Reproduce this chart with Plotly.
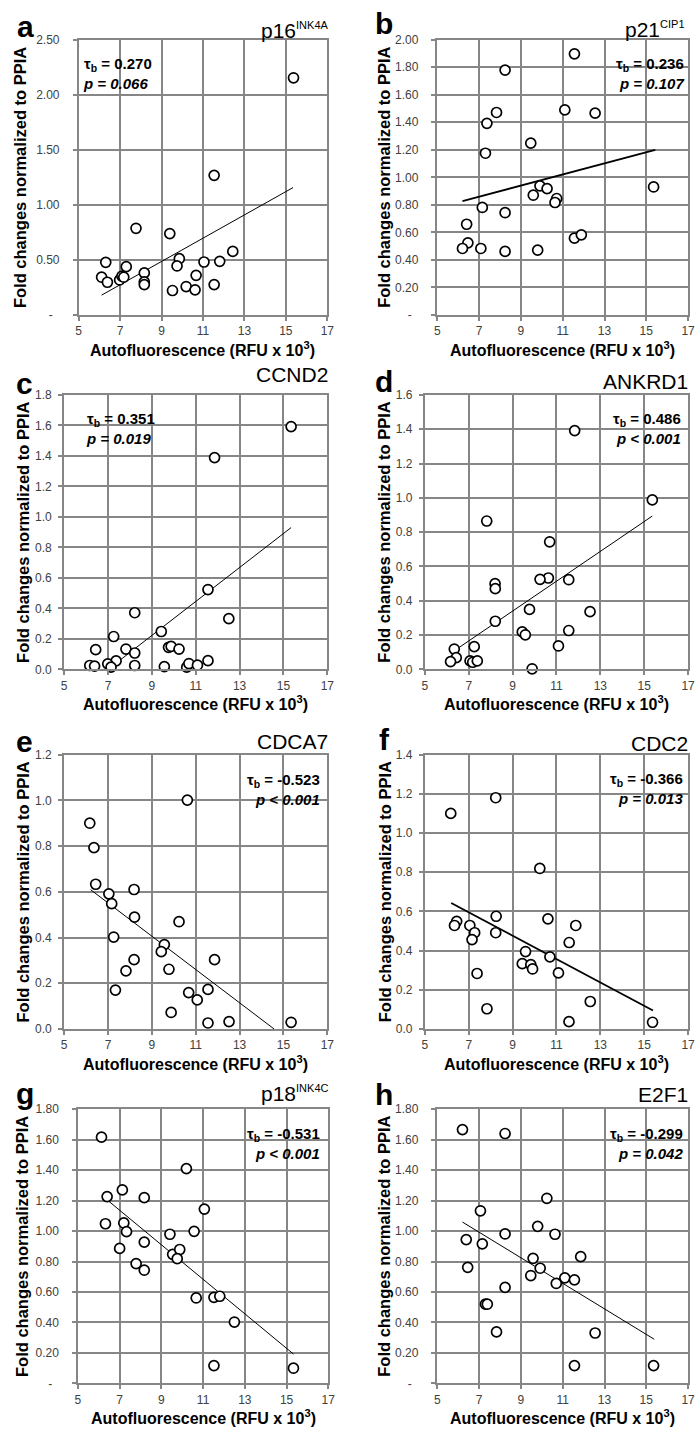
import plotly.graph_objects as go

W, H = 700, 1435
FONT = "Liberation Sans, Arial, sans-serif"
GRID = "#868686"
TICKC = "#404040"
NB = "\u00a0"

# ---------------- data ----------------
a_x = [15.37, 11.54, 7.77, 9.40, 12.44, 9.86, 9.75, 11.05, 11.81, 6.31, 7.30, 6.11,
       6.39, 6.98, 7.09, 7.18, 8.17, 8.17, 8.17, 9.53, 10.19, 10.62, 10.67, 11.54]
a_y = [2.154, 1.268, 0.787, 0.739, 0.577, 0.511, 0.445, 0.481, 0.487, 0.478, 0.439, 0.343,
       0.297, 0.318, 0.352, 0.343, 0.382, 0.300, 0.276, 0.222, 0.258, 0.228, 0.360, 0.276]
a_fit_x = [6.11, 15.35]
a_fit_y = [0.18, 1.157]

b_x = [11.56, 8.24, 7.83, 7.37, 7.30, 11.10, 12.55, 9.47, 9.91, 10.25, 9.59, 10.71,
       10.63, 15.35, 7.15, 8.24, 6.40, 6.46, 6.20, 7.08, 8.24, 9.80, 11.56, 11.89]
b_y = [1.897, 1.779, 1.471, 1.392, 1.175, 1.490, 1.466, 1.248, 0.938, 0.918, 0.870, 0.846,
       0.817, 0.930, 0.781, 0.743, 0.659, 0.524, 0.483, 0.483, 0.462, 0.471, 0.558, 0.582]
b_fit_x = [6.20, 15.43]
b_fit_y = [0.827, 1.200]

c_x = [15.35, 11.86, 11.56, 12.51, 8.22, 9.43, 7.26, 6.44, 7.82, 8.22, 9.76, 9.88,
       10.24, 7.37, 6.99, 6.17, 6.39, 7.14, 8.22, 9.57, 10.59, 10.69, 11.08, 11.56]
c_y = [1.592, 1.389, 0.524, 0.333, 0.372, 0.249, 0.216, 0.130, 0.134, 0.108, 0.145, 0.151,
       0.134, 0.056, 0.037, 0.026, 0.022, 0.015, 0.026, 0.019, 0.015, 0.039, 0.028, 0.058]
c_fit_x = [7.00, 15.35]
c_fit_y = [0.0, 0.930]

d_x = [11.83, 15.37, 7.82, 10.69, 10.63, 10.25, 11.56, 8.20, 8.21, 9.77, 12.53, 8.21,
       9.44, 9.58, 11.56, 11.09, 6.34, 7.25, 6.43, 6.17, 7.06, 7.18, 7.39, 9.89]
d_y = [1.392, 0.988, 0.865, 0.744, 0.533, 0.525, 0.523, 0.500, 0.471, 0.350, 0.337, 0.281,
       0.219, 0.202, 0.227, 0.137, 0.119, 0.133, 0.069, 0.046, 0.050, 0.042, 0.050, 0.004]
d_fit_x = [6.35, 15.37]
d_fit_y = [0.110, 0.894]

e_x = [10.62, 6.17, 6.36, 6.44, 7.04, 7.17, 8.19, 8.21, 10.24, 7.26, 9.57, 9.43,
       8.19, 11.86, 7.82, 9.78, 7.34, 11.56, 10.68, 11.07, 9.88, 11.56, 12.52, 15.35]
e_y = [1.001, 0.900, 0.793, 0.633, 0.591, 0.548, 0.610, 0.489, 0.469, 0.402, 0.369, 0.338,
       0.303, 0.303, 0.254, 0.261, 0.170, 0.173, 0.159, 0.127, 0.072, 0.026, 0.032, 0.029]
e_fit_x = [6.21, 14.57]
e_fit_y = [0.609, 0.0]

f_x = [8.23, 6.18, 10.24, 8.25, 10.61, 11.88, 6.45, 6.35, 7.05, 7.27, 8.23, 7.15,
       11.58, 9.59, 10.70, 9.44, 9.83, 9.91, 7.38, 11.09, 12.54, 7.83, 11.57, 15.38]
f_y = [1.180, 1.100, 0.819, 0.575, 0.562, 0.528, 0.549, 0.528, 0.528, 0.491, 0.491, 0.456,
       0.441, 0.395, 0.368, 0.333, 0.328, 0.306, 0.283, 0.286, 0.140, 0.103, 0.037, 0.034]
f_fit_x = [6.20, 15.40]
f_fit_y = [0.643, 0.094]

g_x = [6.13, 6.40, 6.32, 7.13, 7.20, 7.33, 7.00, 7.79, 8.18, 8.18, 8.18, 9.41,
       10.20, 9.54, 9.88, 9.76, 10.57, 11.06, 10.67, 11.52, 11.80, 11.52, 12.50, 15.33]
g_y = [1.616, 1.226, 1.048, 1.270, 1.053, 0.996, 0.886, 0.786, 1.219, 0.927, 0.743, 0.979,
       1.410, 0.847, 0.879, 0.819, 0.998, 1.144, 0.561, 0.565, 0.572, 0.117, 0.403, 0.100]
g_fit_x = [6.21, 15.33]
g_fit_y = [1.226, 0.193]

h_x = [6.20, 8.24, 10.24, 7.06, 9.80, 8.24, 10.63, 6.38, 7.15, 11.86, 9.58, 9.92,
       9.47, 6.45, 11.10, 11.56, 10.69, 8.24, 7.30, 7.39, 7.83, 12.55, 11.56, 15.35]
h_y = [1.666, 1.640, 1.215, 1.133, 1.031, 0.981, 0.979, 0.944, 0.916, 0.832, 0.821, 0.756,
       0.708, 0.762, 0.693, 0.680, 0.656, 0.630, 0.520, 0.520, 0.338, 0.331, 0.117, 0.117]
h_fit_x = [6.20, 15.38]
h_fit_y = [1.059, 0.290]

letters = ["a", "b", "c", "d", "e", "f", "g", "h"]
genes = ["p16<sup>INK4A</sup>", "p21<sup>CIP1</sup>", "CCND2", "ANKRD1",
         "CDCA7", "CDC2", "p18<sup>INK4C</sup>", "E2F1"]
tau_vals = ["0.270", "0.236", "0.351", "0.486", "-0.523", "-0.366", "-0.531", "-0.299"]
p_vals = ["= 0.066", "= 0.107", "= 0.019", "< 0.001", "< 0.001", "= 0.013", "< 0.001", "= 0.042"]
y_max = [2.5, 2.0, 1.8, 1.6, 1.2, 1.4, 1.8, 1.8]
y_step = [0.5, 0.2, 0.2, 0.2, 0.2, 0.2, 0.2, 0.2]
y_fmt = ["dash2", "dash2", "1", "1", "1", "1", "dash2", "dash2"]
x_ticks = [5, 7, 9, 11, 13, 15, 17]

series = [(a_x, a_y, a_fit_x, a_fit_y), (b_x, b_y, b_fit_x, b_fit_y),
          (c_x, c_y, c_fit_x, c_fit_y), (d_x, d_y, d_fit_x, d_fit_y),
          (e_x, e_y, e_fit_x, e_fit_y), (f_x, f_y, f_fit_x, f_fit_y),
          (g_x, g_y, g_fit_x, g_fit_y), (h_x, h_y, h_fit_x, h_fit_y)]

# ---------------- layout (pixel boxes) ----------------
boxes = [  # left, right, top, bottom in px
    (76.7, 329, 33, 311), (440.7, 695, 33, 311),
    (62, 329, 391.7, 669), (428, 695, 391.7, 669),
    (62, 329, 755, 1032), (428, 695, 755, 1032),
    (76, 330, 1113, 1390), (440.7, 695, 1113, 1390),
]
fit_width = [1, 1.8, 1, 1, 1, 1.8, 1, 1]
letter_pos = [(23, 20), (387, 17), (22, 380), (387, 378),
              (22, 742), (387, 740), (22, 1097), (387, 1098)]
gene_pos = [(333, 24), (694, 23), (332, 371), (697, 378),
            (332, 742), (697, 744), (333, 1097), (697, 1098)]
stat_pos = [(79, 67, "left"), (693, 67, "right"), (82, 426, "left"), (690, 426, "right"),
            (324, 790, "right"), (692, 789, "right"), (324, 1148, "right"), (692, 1148, "right")]
ytitle_x = [18, 387, 20, 387, 20, 387, 20, 387]


def px(x):
    return x / W


def py(y):
    return 1 - y / H


fig = go.Figure()
annotations = []
layout = {}

for i in range(8):
    xs, ys, fx, fy = series[i]
    ax = "" if i == 0 else str(i + 1)
    l, r, t, b = boxes[i]
    fig.add_trace(go.Scatter(x=fx, y=fy, mode="lines", xaxis="x" + ax, yaxis="y" + ax,
                             line=dict(color="black", width=fit_width[i]), showlegend=False,
                             hoverinfo="skip"))
    fig.add_trace(go.Scatter(x=xs, y=ys, mode="markers", xaxis="x" + ax, yaxis="y" + ax,
                             marker=dict(size=10, color="white", symbol="circle",
                                         line=dict(color="black", width=1.7)),
                             cliponaxis=False, showlegend=False))
    n = int(round(y_max[i] / y_step[i]))
    tv = [round(k * y_step[i], 2) for k in range(n + 1)]
    if y_fmt[i] == "dash2":
        tt = ["-" + NB * 4 if v == 0 else f"{v:.2f}" + NB * 2 for v in tv]
    else:
        tt = [f"{v:.1f}" for v in tv]
    common = dict(showgrid=True, gridcolor=GRID, gridwidth=2, showline=True,
                  linecolor=GRID, linewidth=2, mirror=True, zeroline=False,
                  ticks="outside", ticklen=4, tickcolor=GRID, tickwidth=2,
                  tickfont=dict(family=FONT, size=12, color=TICKC))
    layout["xaxis" + ax] = dict(common, domain=[px(l), px(r)], range=[5, 17],
                                tickvals=x_ticks, ticktext=[str(v) for v in x_ticks],
                                anchor="y" + ax)
    layout["yaxis" + ax] = dict(common, domain=[py(b), py(t)], range=[0, y_max[i]],
                                tickvals=tv, ticktext=tt, anchor="x" + ax,
                                ticklabelstandoff=4)
    # panel letter
    lx, ly = letter_pos[i]
    annotations.append(dict(text="<b>" + letters[i] + "</b>", x=px(lx), y=py(ly),
                            xref="paper", yref="paper", showarrow=False,
                            xanchor="center", yanchor="middle",
                            font=dict(family=FONT, size=30, color="black")))
    # gene title
    gx, gy = gene_pos[i]
    gtxt = genes[i].replace("<sup>", "<sup><span style='font-size:11px'>").replace("</sup>", "</span></sup>")
    annotations.append(dict(text=gtxt, x=px(gx), y=py(gy), xref="paper", yref="paper",
                            showarrow=False, xanchor="right", yanchor="middle",
                            font=dict(family=FONT, size=21, color="black")))
    # statistics
    sx, sy, al = stat_pos[i]
    stxt = ("<b>τ<sub>b</sub> = " + tau_vals[i] + "</b><br><b><i>p " + p_vals[i] + "</i></b>")
    annotations.append(dict(text=stxt, x=px(sx), y=py(sy), xref="paper", yref="paper",
                            showarrow=False, xanchor=al, yanchor="middle", align=al,
                            font=dict(family=FONT, size=15, color="black")))
    # y title
    annotations.append(dict(text="<b>Fold changes normalized to PPIA</b>",
                            x=px(ytitle_x[i]), y=py((t + b) / 2), xref="paper", yref="paper",
                            showarrow=False, textangle=-90, xanchor="center", yanchor="middle",
                            font=dict(family=FONT, size=16.5, color="black")))
    # x title
    annotations.append(dict(text="<b>Autofluorescence (RFU x 10<sup>3</sup>)</b>",
                            x=px((l + r) / 2), y=py(b + 34), xref="paper", yref="paper",
                            showarrow=False, xanchor="center", yanchor="middle",
                            font=dict(family=FONT, size=16, color="black")))

fig.update_layout(width=W, height=H, margin=dict(l=0, r=0, t=0, b=0),
                  paper_bgcolor="white", plot_bgcolor="white",
                  annotations=annotations, showlegend=False, **layout)
fig.write_html("out.html", config={"displayModeBar": False},
               post_script="document.body.style.margin='0';document.body.style.overflow='hidden';")
